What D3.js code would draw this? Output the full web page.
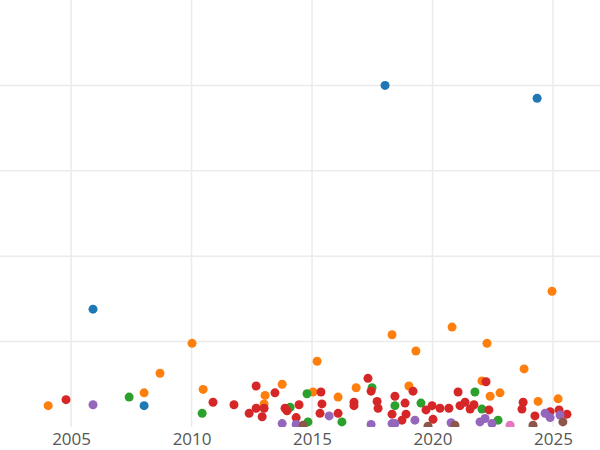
<!DOCTYPE html>
<html><head><meta charset="utf-8">
<script src="https://cdn.jsdelivr.net/npm/d3@7"></script>
<style>body{margin:0;background:#fff}text{font-family:"Open Sans",sans-serif}</style>
</head><body><svg id="c" width="600" height="450"></svg>
<script>
// [year, value] per series
var blue = [[2018.03,4.00],[2024.34,3.85],[2005.91,1.38],[2008.03,0.25]];
var orange = [[2004.05,0.25],[2008.03,0.40],[2008.69,0.63],[2010.02,0.98],[2010.48,0.44],[2013.05,0.37],[2013.01,0.27],
  [2013.76,0.50],[2015.04,0.41],[2015.21,0.77],[2016.08,0.35],[2016.83,0.46],[2018.32,1.08],[2019.02,0.48],[2019.31,0.89],
  [2020.81,1.17],[2022.05,0.54],[2022.26,0.98],[2022.39,0.36],[2022.8,0.40],[2023.8,0.68],[2024.38,0.30],[2024.96,1.59],[2025.21,0.33]];
var green = [[2007.41,0.35],[2010.44,0.16],[2014.09,0.23],[2014.79,0.39],[2014.83,0.06],[2016.24,0.06],[2017.49,0.46],
  [2018.44,0.25],[2019.52,0.28],[2022.05,0.21],[2021.76,0.41],[2022.72,0.08]];
var red = [[2004.79,0.32],[2010.89,0.29],[2011.76,0.26],[2012.39,0.16],[2012.68,0.48],[2012.68,0.22],[2012.93,0.12],[2013.01,0.22],
  [2013.46,0.40],[2013.88,0.22],[2013.96,0.19],[2014.34,0.11],[2014.46,0.26],[2015.37,0.41],[2015.41,0.27],[2015.33,0.16],
  [2016.08,0.16],[2016.74,0.29],[2016.74,0.25],[2017.32,0.57],[2017.45,0.42],[2017.70,0.30],[2017.74,0.22],[2018.32,0.15],
  [2018.44,0.36],[2018.86,0.28],[2018.90,0.15],[2019.19,0.42],[2018.73,0.08],[2019.73,0.20],[2019.98,0.25],[2020.02,0.09],
  [2020.31,0.22],[2020.68,0.22],[2021.06,0.41],[2021.14,0.25],[2021.35,0.29],[2021.56,0.21],[2021.72,0.26],[2022.22,0.53],
  [2022.34,0.20],[2023.76,0.29],[2023.71,0.21],[2024.25,0.13],[2024.88,0.18],[2025.25,0.20],[2025.58,0.15]];
var purple = [[2005.91,0.26],[2013.76,0.04],[2014.34,0.03],[2015.71,0.13],[2017.45,0.03],[2018.32,0.04],[2018.44,0.04],
  [2019.27,0.08],[2020.77,0.05],[2021.97,0.06],[2022.18,0.10],[2022.47,0.04],[2024.67,0.16],[2024.88,0.11],[2025.29,0.14]];
var brown = [[2014.63,0.02],[2019.81,0.01],[2020.93,0.02],[2024.17,0.02],[2025.41,0.06]];
var pink = [[2023.22,0.02]];
var xTicks = [2005, 2010, 2015, 2020, 2025];
var yGrid = [1, 2, 3, 4];

var series = [
  {data: blue, color: "#1f77b4"}, {data: orange, color: "#ff7f0e"}, {data: green, color: "#2ca02c"},
  {data: red, color: "#d62728"}, {data: purple, color: "#9467bd"}, {data: brown, color: "#8c564b"},
  {data: pink, color: "#e377c2"}
];

var width = 600, plotBottom = 427;
var x = d3.scaleLinear().domain([2002.05, 2026.95]).range([0, width]);
var y = d3.scaleLinear().domain([0, 5]).range([plotBottom, 0]);
var svg = d3.select("#c");

svg.append("clipPath").attr("id", "plot").append("rect")
  .attr("x", 0).attr("y", 0).attr("width", width).attr("height", plotBottom);

svg.append("g").selectAll("line").data(xTicks).enter().append("line")
  .attr("x1", d => x(d)).attr("x2", d => x(d)).attr("y1", 0).attr("y2", plotBottom)
  .attr("stroke", "#ebebeb").attr("stroke-width", 1.5);
svg.append("g").selectAll("line").data(yGrid).enter().append("line")
  .attr("x1", 0).attr("x2", width).attr("y1", d => y(d)).attr("y2", d => y(d))
  .attr("stroke", "#ebebeb").attr("stroke-width", 1.5);

var marks = svg.append("g").attr("clip-path", "url(#plot)");
series.forEach(function(s) {
  marks.append("g").selectAll("circle").data(s.data).enter().append("circle")
    .attr("cx", d => x(d[0])).attr("cy", d => y(d[1])).attr("r", 4.5)
    .attr("fill", s.color);
});

var xAxis = svg.append("g").attr("transform", "translate(0," + plotBottom + ")")
  .call(d3.axisBottom(x).tickValues(xTicks).tickFormat(d3.format("d")).tickSize(0).tickPadding(6));
xAxis.select(".domain").remove();
xAxis.selectAll("text").style("font-size", "17px").attr("fill", "#555");
</script></body></html>
